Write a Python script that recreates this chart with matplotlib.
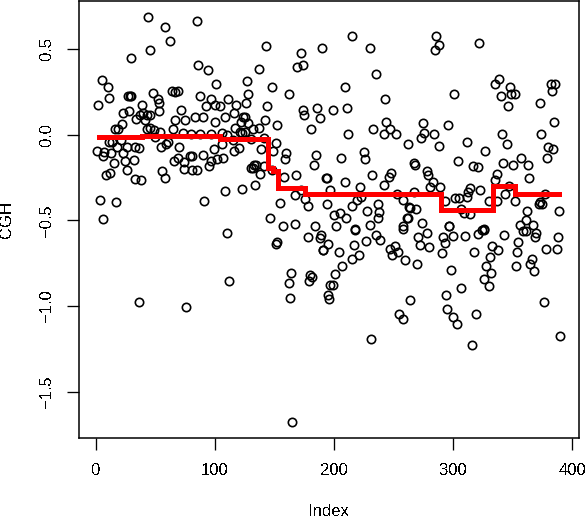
import numpy as np
import matplotlib
matplotlib.use('Agg')
import matplotlib.pyplot as plt

plt.rcParams['font.family'] = ['Liberation Sans', 'DejaVu Sans']
plt.rcParams['text.antialiased'] = False

# values, (index, CGH), overlapping clumps are approximate
index_a = [44,58,85,62,46,30,86,94,5,10,101,127,11,2,27,29,30,48,64,67,69,52,53,39,53,28,23,88,97,93,100,104,111,118,126,128,
           72,67,75,83,90,100,109,116,124,122,34,37,40,43,46,41,22,19,16,43,46,49,54,65,73,80,88,97,106,110,117,121,125,
           11,14,21,1,6,13,7,18,26,33,36,23,15,25,32,26,9,12,33,38,4,17,6,91,109,123,55,59,61,70,50,79,81,90,69,66,74,
           74,81,85,56,58,95,97,102,107,99,106,116,120,115,130]
cgh_a = [.687,.628,.663,.547,.494,.447,.407,.377,.319,.276,.296,.313,.216,.171,.226,.226,.226,.243,.257,.251,.257,.206,.138,.173,.187,.138,.126,.226,.210,.167,.171,.167,.210,.173,.183,.237,
         .144,.086,.086,.103,.103,.074,.103,.126,.103,.074,.091,.115,.125,.115,.115,.086,.064,.031,.031,.031,.037,.027,.014,.035,.008,.004,.004,.004,.008,.0,.037,.014,.014,
         -.043,-.043,-.031,-.093,-.123,-.105,-.099,-.072,-.072,-.07,-.08,-.107,-.163,-.156,-.148,-.206,-.235,-.222,-.259,-.267,-.381,-.393,-.492,-.387,-.327,-.317,-.072,-.054,-.041,-.072,-.015,-.123,-.123,-.117,-.134,-.152,-.161,
         -.2,-.206,-.206,-.212,-.255,-.181,-.152,-.144,-.138,-.084,-.055,-.093,-.08,-.031,-.197]

index_b = [143,172,190,215,230,174,169,137,235,148,209,162,243,144,174,175,186,188,199,211,125,142,128,137,132,152,181,212,233,244,247,242,252,262,
           130,123,141,151,139,149,160,159,185,183,206,225,226,133,135,132,141,138,148,158,168,193,194,209,232,248,246,242,222,197,134,172,167,
           176,178,155,194,200,205,210,146,157,167,184,202,218,230,237,238,237,228,215,219,223,253,258,263,261,258]
cgh_b = [.517,.479,.506,.576,.506,.407,.395,.383,.354,.278,.278,.237,.208,.167,.144,.115,.158,.097,.144,.158,.101,.086,.066,.041,.031,.056,.033,.004,.033,.074,.033,.004,.004,-.055,
         -.027,.008,-.021,-.05,-.084,-.097,-.107,-.142,-.119,-.177,-.136,-.101,-.142,-.177,-.177,-.197,-.183,-.23,-.206,-.245,-.235,-.255,-.255,-.276,-.235,-.222,-.245,-.294,-.306,-.323,-.294,-.323,-.352,
         -.375,-.416,-.397,-.405,-.469,-.459,-.488,-.488,-.533,-.521,-.533,-.533,-.55,-.527,-.488,-.453,-.405,-.444,-.416,-.381,-.362,-.346,-.381,-.42,-.488,-.533]

index_c = [286,288,285,322,339,335,348,349,352,340,346,301,382,386,383,373,385,275,296,276,273,284,288,312,327,341,345,374,380,384,379,357,363,350,342,304,317,321,267,268,
           278,279,337,335,364,283,281,289,314,313,323,267,347,344,312,302,305,293,330,337,352,377,373,372,375,264,269,307,309,314,362,389,262,274,297,326,356,361,367]
cgh_c = [.576,.523,.492,.537,.325,.296,.278,.239,.235,.226,.167,.237,.296,.296,.257,.183,.074,.068,.056,.008,-.021,.004,-.066,-.043,-.095,.004,-.055,.004,-.072,-.084,-.136,-.136,-.177,-.177,-.165,-.154,-.183,-.189,-.167,-.177,
         -.212,-.235,-.23,-.265,-.253,-.274,-.303,-.303,-.313,-.333,-.323,-.333,-.3,-.346,-.362,-.372,-.372,-.387,-.387,-.387,-.387,-.346,-.391,-.405,-.405,-.43,-.436,-.436,-.459,-.463,-.446,-.446,-.488,-.516,-.533,-.55,-.527,-.498,-.527]

index_d = [110,112,36,76,178,189,188,195,191,152,151,164,162,163,180,182,179,195,197,165,
           218,235,239,227,217,191,204,221,215,207,201,199,196,247,251,254,249,260,270,272,278,280,271,291,293,292,300,297,310,321,324,326,343,
           318,333,338,331,328,332,326,330,298,307,294,295,300,303,319,316,264,255,258,231,376,390,355,354,353,366,365,368,378,387,388,359,361,370,369,258]
cgh_d = [-.574,-.854,-.976,-1.005,-.597,-.585,-.605,-.64,-.673,-.624,-.638,-.807,-.865,-.953,-.819,-.828,-.854,-.935,-.877,-1.677,
         -.556,-.585,-.614,-.618,-.644,-.673,-.683,-.702,-.727,-.766,-.813,-.877,-.96,-.669,-.648,-.683,-.702,-.731,-.755,-.644,-.576,-.655,-.595,-.692,-.63,-.595,-.591,-.533,-.591,-.581,-.556,-.556,-.585,
         -.683,-.648,-.673,-.712,-.764,-.807,-.84,-.883,-.79,-.893,-.935,-1.017,-1.062,-1.105,-1.046,-1.227,-.965,-1.046,-1.076,-1.192,-.976,-1.175,-.624,-.686,-.766,-.727,-.755,-.795,-.667,-.667,-.597,-.56,-.56,-.572,-.6,-.55]

# fitted segments
seg_start = [1,39,104,145,149,153,176,290,334,352,391]
seg_value = [-.012,-.006,-.025,-.197,-.21,-.313,-.345,-.44,-.298,-.345,-.345]

idx = np.array(index_a + index_b + index_c + index_d)
cgh = np.array(cgh_a + cgh_b + cgh_c + cgh_d)

fig = plt.figure(figsize=(5.88, 5.18), dpi=100)
ax = fig.add_axes([79/588, 1 - 438/518, 500/588, 437/518])

ax.plot(idx, cgh, 'o', mfc='none', mec='black', ms=6.0, mew=1.2, antialiased=False, clip_on=False)
ax.step(seg_start, seg_value, where='post', color='#ff0000', lw=2.5, antialiased=False,
        solid_capstyle='butt', solid_joinstyle='miter')

ax.set_xlim(-14, 405.8)
ax.set_ylim(-1.77, 0.78)
ax.set_xticks([0, 100, 200, 300, 400])
ax.set_yticks([-1.5, -1.0, -0.5, 0.0, 0.5])
ax.tick_params(axis='both', length=8.4, width=0.95, pad=9.5, labelsize=12)
ax.tick_params(axis='y', labelrotation=90)
for t in ax.get_yticklabels():
    t.set_va('center')
for s in ax.spines.values():
    s.set_linewidth(1.1)

fig.text(329/588, 1 - 516/518, 'Index', ha='center', va='baseline', fontsize=12)
fig.text(7/588, 1 - 219.5/518, 'CGH', ha='center', va='center', rotation=90, fontsize=12)

fig.savefig('out.png', dpi=100)
